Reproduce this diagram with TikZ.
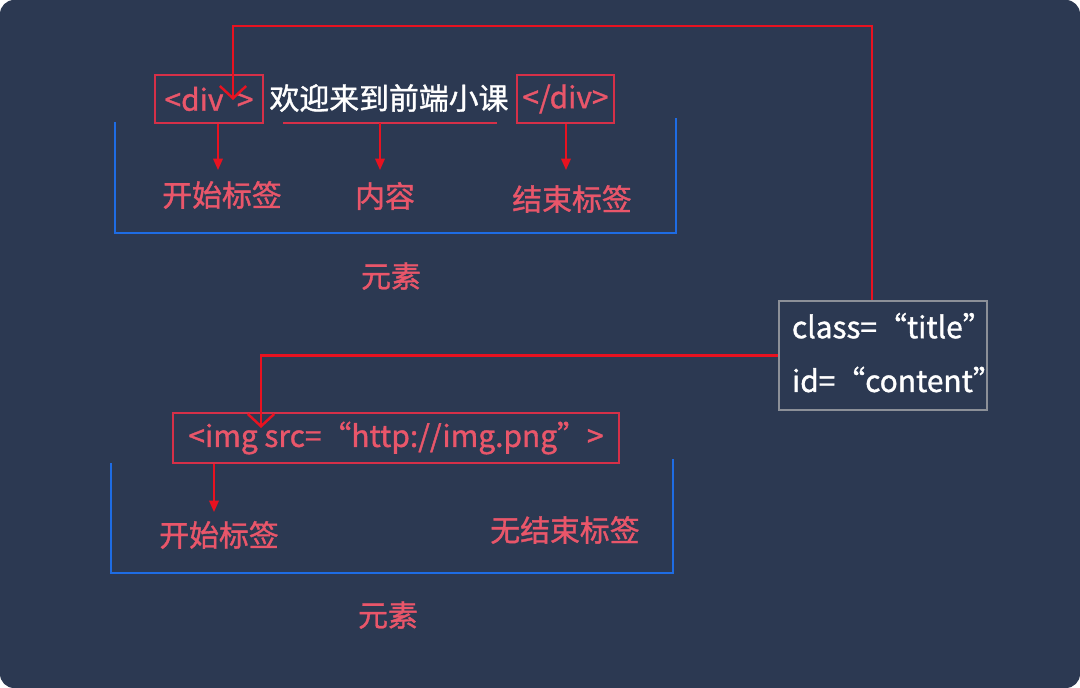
\documentclass[tikz,border=0pt]{standalone}
\usepackage{fontspec}
\setmainfont{Noto Sans CJK SC}[FakeBold=1.2]
\usepackage{tikz}
\usetikzlibrary{arrows.meta,positioning,calc}
\definecolor{bgcolor}{RGB}{44,57,82}
\definecolor{tagcolor}{RGB}{233,86,106}
\definecolor{boxcolor}{RGB}{214,48,72}
\definecolor{linkcolor}{RGB}{232,18,32}
\definecolor{elemcolor}{RGB}{30,108,228}
\definecolor{attrcolor}{RGB}{140,144,152}

\begin{document}
\begin{tikzpicture}[
  x=0.02cm,y=-0.02cm,
  tagbox/.style={rectangle,draw=boxcolor,line width=1.4pt,text=tagcolor,
                 font=\fontsize{17}{20}\selectfont,inner sep=0pt},
  lbl/.style={text=tagcolor,font=\fontsize{17}{20}\selectfont,inner sep=0pt},
  txt/.style={text=white,font=\fontsize{17}{20}\selectfont,inner sep=0pt},
  attrbox/.style={rectangle,draw=attrcolor,line width=1.4pt,text=white,
                  font=\fontsize{17}{30.6}\selectfont,align=left,inner sep=0pt,
                  text width=3.64cm,minimum width=4.16cm,minimum height=2.18cm},
  pointer/.style={-{Triangle[length=6.5pt,width=5.5pt]},linkcolor,line width=0.8pt},
  link/.style={-{Straight Barb[length=7pt,width=15pt]},linkcolor,line width=1.4pt},
  elem/.style={elemcolor,line width=1.4pt}
]
%% Fond
\fill[bgcolor,rounded corners=8pt] (0,0) rectangle (1080,688);
\useasboundingbox (0,0) rectangle (1080,688);
%% Élément div
\node[tagbox,minimum width=2.16cm,minimum height=0.96cm] (divopen) at (209,99) {<div\ \ >};
\node[txt]  (content)  at (389,98)  {欢迎来到前端小课};
\node[tagbox,minimum width=1.94cm,minimum height=0.96cm] (divclose) at (565.5,99) {</div>};
\draw[boxcolor,line width=0.8pt] (283,123) -- coordinate (ul) (497,123);
\node[lbl] (lblA) at (222,195) {开始标签};
\node[lbl] (lblB) at (385,196) {内容};
\node[lbl] (lblC) at (572,199) {结束标签};
\draw[pointer] (divopen.south -| 218,0) -- (218,170);
\draw[pointer] (ul -| 380,0) -- (380,170);
\draw[pointer] (divclose.south -| 566,0) -- (566,170);
\draw[elem] (115,122) |- (676,233) -- (676,118);
\node[lbl] (elemA) at (391,276) {元素};
%% Attributs
\node[attrbox] (cls) at (883,355.5) {\raisebox{3.5pt}{class=“title”}\\\raisebox{3.5pt}{id=“content”}};
%% Élément img
\node[tagbox,minimum width=8.92cm,minimum height=1.0cm] (img) at (396,438) {<img src=“http://img.png”>};
\node[lbl] (lblD) at (219,535) {开始标签};
\node[lbl] (lblE) at (565,530) {无结束标签};
\draw[pointer] (img.south -| 214,0) -- (214,512);
\draw[elem] (111,463) |- (673,573) -- (673,459);
\node[lbl] (elemB) at (388,615) {元素};
%% Liens
\coordinate (topA) at (233,26);
\coordinate (tipA) at (233,100);
\coordinate (tipB) at (261,428);
\draw[link] ($(cls.north)+(-11,0)$) |- (topA) -- (tipA);
\draw[link] (cls.west) -| (tipB);
\end{tikzpicture}
\end{document}
